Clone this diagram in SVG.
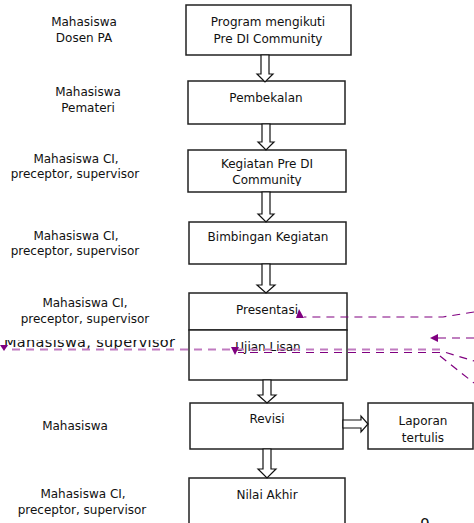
<svg xmlns="http://www.w3.org/2000/svg" width="474" height="523" viewBox="0 0 474 523">
<style>
text{font-family:"DejaVu Sans","Liberation Sans",sans-serif;font-size:12px;fill:#111;text-anchor:middle}
.box{fill:#fff;stroke:#222;stroke-width:1.5}
.arr{fill:#fff;stroke:#111;stroke-width:1.2}
.dk{fill:none;stroke:#800080;stroke-width:1.2;stroke-dasharray:8 6}
.lt{fill:none;stroke:#c07ac0;stroke-width:1.8;stroke-dasharray:8 6}
.ah{fill:#800080}
</style>
<defs>
<clipPath id="c3"><rect x="188" y="150" width="158" height="36"/></clipPath>
</defs>
<rect width="474" height="523" fill="#fff"/>

<g id="side-labels">
<text x="84" y="26">Mahasiswa</text><text x="84" y="42">Dosen PA</text>
<text x="88" y="96">Mahasiswa</text><text x="88" y="112">Pemateri</text>
<text x="76" y="163">Mahasiswa CI,</text><text x="75" y="178">preceptor, supervisor</text>
<text x="76" y="240">Mahasiswa CI,</text><text x="75" y="255">preceptor, supervisor</text>
<text x="4" y="347" style="font-size:14.5px;text-anchor:start" textLength="171">Mahasiswa, supervisor</text>
<rect x="0" y="290" width="171" height="50" fill="#fff"/>
<text x="85" y="307">Mahasiswa CI,</text><text x="85" y="323">preceptor, supervisor</text>
<text x="75" y="430">Mahasiswa</text>
<text x="83" y="498">Mahasiswa CI,</text><text x="82" y="514">preceptor, supervisor</text>
</g>

<g id="n1"><rect class="box" x="186" y="5" width="165" height="50"/><text x="268" y="26">Program mengikuti</text><text x="268" y="43">Pre DI Community</text></g>
<g id="n2"><rect class="box" x="188" y="81" width="157" height="43"/><text x="266" y="102">Pembekalan</text></g>
<g id="n3"><rect class="box" x="188" y="150" width="158" height="42"/><g clip-path="url(#c3)"><text x="267" y="168">Kegiatan Pre DI</text><text x="267" y="184">Community</text></g></g>
<g id="n4"><rect class="box" x="189" y="222" width="157" height="42"/><text x="268" y="241">Bimbingan Kegiatan</text></g>
<g id="n5"><rect class="box" x="189" y="293" width="158" height="37"/><text x="267" y="314">Presentasi</text></g>
<g id="n6"><rect class="box" x="189" y="330" width="158" height="50"/><text x="268" y="351">Ujian Lisan</text></g>
<g id="n7"><rect class="box" x="190" y="403" width="153" height="46"/><text x="267" y="423">Revisi</text></g>
<g id="n8"><rect class="box" x="368" y="403" width="105" height="46"/><text x="423" y="425">Laporan</text><text x="423" y="442">tertulis</text></g>
<g id="n9"><rect class="box" x="189" y="478" width="156" height="60"/><text x="267" y="499">Nilai Akhir</text></g>

<g id="connectors">
<polygon class="arr" points="261,55 269,55 269,74 273,74 265,82 257,74 261,74"/>
<polygon class="arr" points="262,124 270,124 270,142 274,142 266,150 258,142 262,142"/>
<polygon class="arr" points="262,192 270,192 270,214 274,214 266,222 258,214 262,214"/>
<polygon class="arr" points="262,264 270,264 270,285 275,285 266,293 257,285 262,285"/>
<polygon class="arr" points="263,380 271,380 271,395 276,395 267,403 258,395 263,395"/>
<polygon class="arr" points="263,449 271,449 271,469 276,469 267,478 258,469 263,469"/>
<polygon class="arr" points="343,420 361,420 361,416 368,424 361,432 361,428 343,428"/>

<path class="dk" d="M474,312 L443,317 L304,317"/>
<polygon class="ah" points="296,318 304,318 299,309"/>
<path class="dk" d="M474,338 L437,338"/>
<polygon class="ah" points="430,338 438,334 438,342"/>
<path class="lt" d="M440,349.5 L6,349.5"/>
<polygon class="ah" points="0,345 8,345 4,351"/>
<path class="dk" d="M440,352.5 L238,352.5"/>
<polygon class="ah" points="231,347 239,347 235,355"/>
<path class="dk" d="M440,356 L474,383"/>
<path class="dk" d="M446,352.5 L474,361"/>
</g>

<text x="425" y="530" style="font-size:15px">9</text>
</svg>
